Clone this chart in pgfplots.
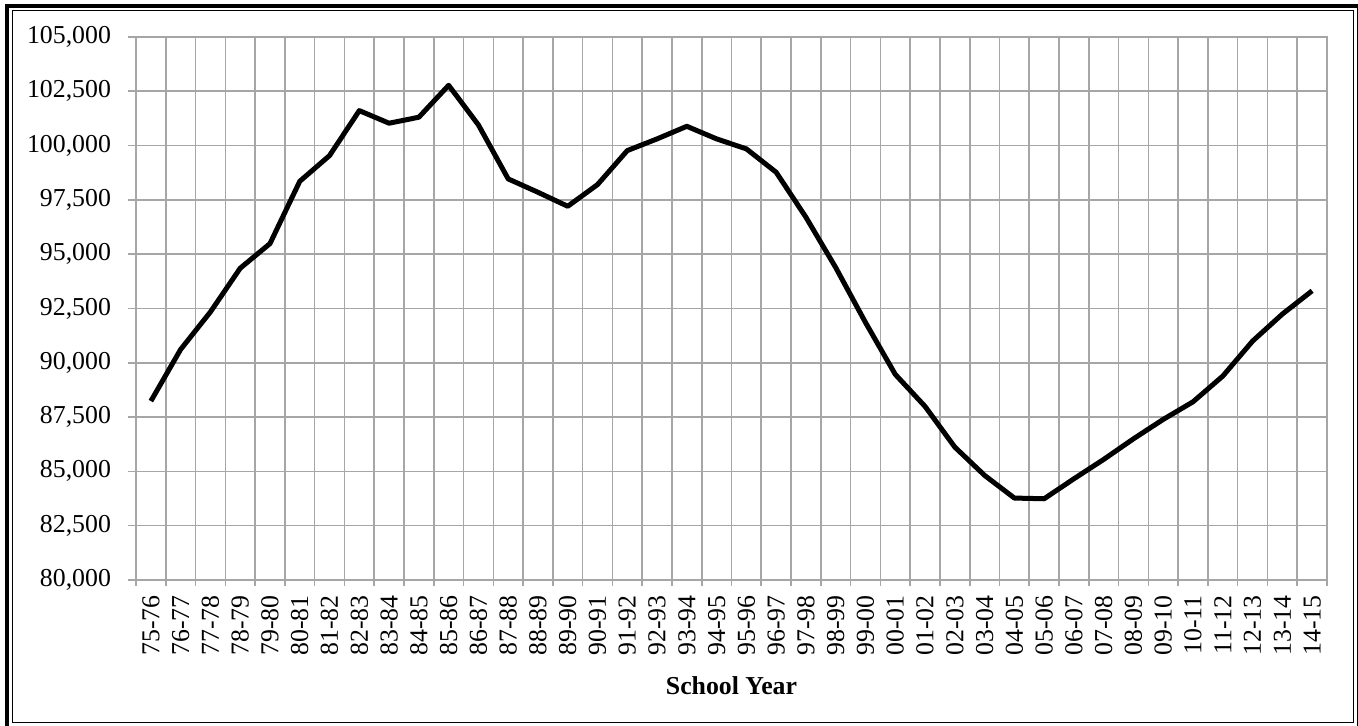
\documentclass[border=0pt]{standalone}
\usepackage{pgfplots}
\pgfplotsset{compat=1.18}
\usepackage{fontspec}
\setmainfont{Liberation Serif}
\definecolor{gridgray}{RGB}{166,166,166}
\pgfplotstableread{
x y
0 88237
1 90617
2 92343
3 94355
4 95488
5 98356
6 99540
7 101610
8 101030
9 101306
10 102776
11 100952
12 98466
13 97850
14 97206
15 98204
16 99770
17 100308
18 100888
19 100308
20 99848
21 98772
22 96700
23 94384
24 91856
25 89466
26 87992
27 86118
28 84816
29 83772
30 83740
31 84660
32 85552
33 86500
34 87394
35 88204
36 89388
37 90998
38 92242
39 93314
}\enrollment
\begin{document}
\begin{tikzpicture}[x=1pt,y=1pt,font=\fontsize{12.9pt}{15pt}\selectfont]
\useasboundingbox (0,0) rectangle (679,363);
\draw[line width=2pt] (3.5,-1) rectangle (679.5,360);
\draw[line width=0.5pt] (6,1.5) rectangle (676.5,357.5);
\begin{axis}[
  at={(68pt,73pt)}, anchor=south west,
  scale only axis,
  width=595.5pt, height=271.5pt,
  xmin=-0.5, xmax=39.5,
  ymin=80000, ymax=105000,
  ytick={80000,82500,...,105000},
  scaled y ticks=false,
  yticklabel style={xshift=-5pt, /pgf/number format/.cd, fixed, 1000 sep={,}, assume math mode=true},
  xtick={0,...,39},
  xticklabels={75-76,76-77,77-78,78-79,79-80,80-81,81-82,82-83,83-84,84-85,85-86,86-87,87-88,88-89,89-90,90-91,91-92,92-93,93-94,94-95,95-96,96-97,97-98,98-99,99-00,00-01,01-02,02-03,03-04,04-05,05-06,06-07,07-08,08-09,09-10,10-11,11-12,12-13,13-14,14-15},
  xticklabel style={rotate=90, anchor=east, inner sep=1pt, xshift=-2.5pt},
  minor xtick={-0.5,0.5,...,39.5},
  x tick style={draw=none},
  minor x tick style={draw=gridgray, line width=0.8pt},
  minor tick length=3pt,
  y tick style={draw=gridgray, line width=0.8pt},
  major tick length=4pt,
  tick align=outside,
  tick pos=left,
  ymajorgrids=true,
  xminorgrids=true,
  grid style={draw=gridgray, line width=0.8pt},
  minor grid style={draw=gridgray, line width=0.8pt},
  axis line style={draw=gridgray, line width=0.8pt},
  xlabel={\textbf{School Year}},
  xlabel style={yshift=-6pt},
  clip=false,
]
\addplot[black, line width=2.5pt, line join=round, no markers] table[x=x,y=y] {\enrollment};
\end{axis}
\end{tikzpicture}
\end{document}
